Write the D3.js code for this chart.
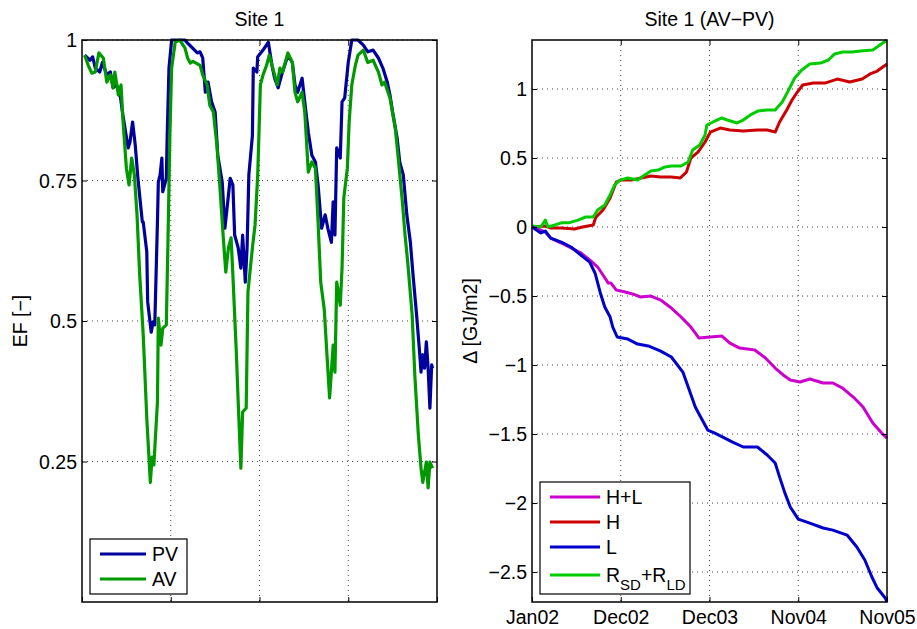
<!DOCTYPE html>
<html>
<head>
<meta charset="utf-8">
<script src="https://cdn.jsdelivr.net/npm/d3@7"></script>
<style>
body { margin: 0; background: #fff; }
text { font-family: "Liberation Sans", Arial, sans-serif; fill: #000; }
</style>
</head>
<body>
<div id="container"></div>
<script>
// time axis in years since Jan02 (tick 0..4)
var xTickLabels = ["Jan02", "Dec02", "Dec03", "Nov04", "Nov05"];
var efTicks = [0.25, 0.5, 0.75, 1];
var deltaTicks = [-2.5, -2, -1.5, -1, -0.5, 0, 0.5, 1];

// Site 1 EF, PV
var pvT = [0.03,0.09,0.12,0.15,0.20,0.23,0.28,0.32,0.35,0.39,0.43,0.46,0.52,0.54,0.57,0.60,0.63,0.68,0.69,0.73,0.74,0.78,0.80,0.82,0.85,0.86,0.88,0.90,0.91,0.95,0.96,0.98,1.01,1.08,1.16,1.18,1.30,1.33,1.36,1.39,1.42,1.46,1.50,1.53,1.58,1.61,1.63,1.67,1.70,1.72,1.76,1.79,1.81,1.84,1.86,1.88,1.92,1.93,1.97,1.98,2.04,2.10,2.14,2.17,2.21,2.25,2.32,2.37,2.40,2.43,2.48,2.51,2.55,2.59,2.63,2.66,2.70,2.74,2.77,2.81,2.83,2.85,2.87,2.91,2.93,2.96,3.00,3.04,3.11,3.17,3.22,3.28,3.34,3.39,3.44,3.47,3.50,3.55,3.58,3.62,3.66,3.70,3.73,3.77,3.80,3.82,3.84,3.86,3.88,3.90,3.92,3.94,3.95];
var pvEF = [0.973,0.964,0.970,0.950,0.943,0.960,0.938,0.943,0.915,0.920,0.902,0.867,0.808,0.818,0.854,0.813,0.754,0.676,0.676,0.623,0.534,0.480,0.498,0.493,0.676,0.747,0.760,0.790,0.730,0.754,0.830,0.950,1.000,1.000,1.000,0.996,0.977,0.979,0.968,0.907,0.925,0.890,0.872,0.795,0.747,0.665,0.694,0.754,0.742,0.653,0.630,0.594,0.653,0.569,0.630,0.760,0.830,0.950,0.943,0.970,0.982,0.996,0.955,0.932,0.915,0.938,0.973,0.960,0.920,0.907,0.932,0.890,0.836,0.795,0.783,0.742,0.665,0.689,0.665,0.640,0.712,0.653,0.808,0.790,0.890,0.897,0.960,1.000,1.000,0.991,0.979,0.982,0.968,0.950,0.925,0.902,0.872,0.826,0.783,0.760,0.689,0.640,0.582,0.511,0.452,0.409,0.440,0.416,0.463,0.416,0.345,0.422,0.416];

// Site 1 EF, AV
var avT = [0.03,0.07,0.11,0.15,0.19,0.24,0.28,0.32,0.35,0.37,0.41,0.44,0.46,0.50,0.53,0.56,0.59,0.62,0.65,0.69,0.73,0.77,0.79,0.81,0.85,0.86,0.89,0.91,0.95,0.97,0.99,1.01,1.05,1.10,1.16,1.19,1.22,1.25,1.33,1.36,1.41,1.44,1.48,1.52,1.55,1.59,1.62,1.65,1.68,1.70,1.74,1.76,1.79,1.81,1.85,1.87,1.92,1.95,1.98,2.01,2.04,2.08,2.11,2.15,2.20,2.23,2.26,2.32,2.37,2.40,2.43,2.48,2.51,2.55,2.59,2.63,2.66,2.69,2.73,2.76,2.79,2.83,2.85,2.87,2.91,2.93,2.95,2.99,3.01,3.04,3.08,3.11,3.17,3.22,3.28,3.34,3.38,3.41,3.47,3.53,3.56,3.61,3.64,3.67,3.72,3.75,3.79,3.82,3.84,3.88,3.90,3.92,3.95];
var avEF = [0.973,0.955,0.941,0.943,0.977,0.968,0.925,0.938,0.915,0.943,0.902,0.920,0.861,0.772,0.742,0.790,0.760,0.689,0.582,0.475,0.327,0.213,0.258,0.244,0.356,0.505,0.457,0.487,0.493,0.653,0.830,0.950,0.996,1.000,0.986,0.968,0.959,0.962,0.955,0.938,0.920,0.884,0.872,0.813,0.747,0.653,0.587,0.630,0.648,0.582,0.440,0.356,0.238,0.338,0.345,0.552,0.630,0.671,0.760,0.920,0.938,0.955,0.973,0.950,0.920,0.950,0.943,0.977,0.960,0.907,0.890,0.907,0.872,0.765,0.783,0.772,0.676,0.569,0.520,0.440,0.363,0.457,0.409,0.569,0.528,0.594,0.719,0.772,0.854,0.920,0.955,0.973,0.982,0.960,0.964,0.943,0.920,0.925,0.897,0.843,0.795,0.712,0.653,0.605,0.511,0.404,0.297,0.238,0.213,0.249,0.203,0.249,0.238];

// Site 1 (AV-PV), cumulative difference [GJ/m2]
var hlT = [0,0.15,0.21,0.33,0.44,0.55,0.65,0.74,0.80,0.86,0.89,0.95,1.05,1.14,1.22,1.34,1.45,1.57,1.68,1.79,1.88,2.01,2.14,2.23,2.34,2.51,2.63,2.74,2.83,2.91,3.02,3.13,3.28,3.39,3.50,3.62,3.73,3.84,3.94,4.00];
var hlVal = [0,-0.036,-0.080,-0.116,-0.152,-0.188,-0.239,-0.290,-0.348,-0.406,-0.406,-0.457,-0.471,-0.486,-0.507,-0.500,-0.529,-0.587,-0.652,-0.725,-0.804,-0.797,-0.790,-0.841,-0.877,-0.891,-0.949,-1.022,-1.072,-1.109,-1.123,-1.101,-1.130,-1.130,-1.167,-1.232,-1.304,-1.420,-1.493,-1.529];

var hT = [0,0.15,0.21,0.33,0.48,0.57,0.69,0.72,0.80,0.88,0.95,1.00,1.12,1.23,1.34,1.45,1.57,1.67,1.74,1.79,1.87,1.95,2.01,2.12,2.23,2.38,2.54,2.65,2.74,2.79,2.87,2.93,2.99,3.05,3.17,3.30,3.44,3.58,3.72,3.81,3.89,4.00];
var hVal = [0,0.007,-0.007,-0.007,-0.014,0,0.015,0.072,0.123,0.210,0.326,0.340,0.340,0.355,0.370,0.362,0.362,0.355,0.398,0.500,0.543,0.616,0.688,0.717,0.703,0.696,0.703,0.703,0.688,0.761,0.848,0.920,0.978,1.029,1.043,1.043,1.072,1.051,1.072,1.109,1.130,1.181];

var lT = [0,0.10,0.15,0.21,0.33,0.44,0.55,0.65,0.71,0.77,0.82,0.88,0.91,0.96,1.08,1.19,1.31,1.45,1.57,1.70,1.76,1.84,1.90,1.98,2.06,2.15,2.26,2.38,2.54,2.65,2.74,2.79,2.85,2.91,3.00,3.13,3.28,3.39,3.55,3.66,3.75,3.83,3.89,3.98,4.00];
var lVal = [0,-0.043,-0.029,-0.080,-0.109,-0.145,-0.203,-0.254,-0.333,-0.478,-0.580,-0.652,-0.725,-0.797,-0.812,-0.848,-0.862,-0.899,-0.942,-1.051,-1.159,-1.304,-1.377,-1.471,-1.493,-1.522,-1.558,-1.594,-1.594,-1.652,-1.710,-1.812,-1.928,-2.029,-2.116,-2.145,-2.181,-2.196,-2.232,-2.319,-2.413,-2.536,-2.616,-2.688,-2.717];

var rT = [0,0.10,0.15,0.18,0.26,0.33,0.41,0.52,0.60,0.69,0.74,0.82,0.88,0.93,0.99,1.08,1.19,1.27,1.34,1.42,1.50,1.57,1.68,1.76,1.81,1.89,1.95,1.97,2.04,2.14,2.20,2.31,2.38,2.46,2.55,2.65,2.74,2.82,2.88,2.96,3.04,3.13,3.25,3.34,3.41,3.50,3.61,3.70,3.84,3.92,4.00];
var rVal = [0.007,0,0.050,0,0.015,0.030,0.030,0.050,0.072,0.072,0.123,0.160,0.232,0.304,0.340,0.355,0.340,0.377,0.406,0.413,0.435,0.442,0.442,0.471,0.558,0.594,0.667,0.739,0.761,0.790,0.775,0.754,0.775,0.812,0.841,0.848,0.848,0.906,0.978,1.080,1.138,1.181,1.188,1.210,1.254,1.268,1.268,1.275,1.283,1.319,1.355];

var WIDTH = 917, HEIGHT = 629;
var TOP = 40, BOTTOM = 602;
var FONT = "19.5px";

var zip = function( t, v ) { return t.map(function( d, i ){ return [d, v[i]]; }); };

var svg = d3.select("#container").append("svg")
    .attr("width", WIDTH)
    .attr("height", HEIGHT);

var draw_panel = function( opt )
{
    var g = svg.append("g");
    var x = d3.scaleLinear().domain([0, 4]).range([opt.left, opt.right]);
    var y = d3.scaleLinear().domain(opt.ydomain).range([BOTTOM, TOP]);

    // grid
    g.selectAll("line.vgrid")
	.data([1, 2, 3])
	.enter().append("line")
	.attr("x1", function(d){ return x(d); }).attr("x2", function(d){ return x(d); })
	.attr("y1", TOP).attr("y2", BOTTOM)
	.attr("stroke", "#444").attr("stroke-width", 1)
	.attr("stroke-dasharray", "1,4");

    g.selectAll("line.hgrid")
	.data(opt.yticks)
	.enter().append("line")
	.attr("x1", opt.left).attr("x2", opt.right)
	.attr("y1", function(d){ return y(d); }).attr("y2", function(d){ return y(d); })
	.attr("stroke", "#444").attr("stroke-width", 1)
	.attr("stroke-dasharray", "1,4");

    // data lines
    var line = d3.line()
	.x(function(d){ return x(d[0]); })
	.y(function(d){ return y(d[1]); });

    opt.series.forEach(function( s ){
	g.append("path")
	    .datum(zip(s.t, s.v))
	    .attr("d", line)
	    .attr("fill", "none")
	    .attr("stroke", s.color)
	    .attr("stroke-width", opt.lw)
	    .attr("stroke-linejoin", "round");
    });

    // axes, ticks inside on all sides
    var tick = 5;
    var ax = d3.axisBottom(x).tickValues([0, 1, 2, 3, 4]).tickSizeInner(-tick).tickSizeOuter(0)
	.tickFormat(function(d, i){ return opt.xlabels ? opt.xlabels[i] : ""; });
    var axg = g.append("g").attr("transform", "translate(0," + BOTTOM + ")").call(ax);
    axg.selectAll("text").attr("dy", null).attr("y", 22).style("font-size", FONT)
	.style("font-family", "'Liberation Sans', Arial, sans-serif");

    g.append("g").attr("transform", "translate(0," + TOP + ")")
	.call(d3.axisTop(x).tickValues([1, 2, 3]).tickSizeInner(-tick).tickSizeOuter(0).tickFormat(""));

    var ay = d3.axisLeft(y).tickValues(opt.yticks).tickSizeInner(-tick).tickSizeOuter(0)
	.tickFormat(function(d){ return d3.format("")(d).replace("-", "\u2212"); });
    var ayg = g.append("g").attr("transform", "translate(" + opt.left + ",0)").call(ay);
    ayg.selectAll("text").attr("x", -5).attr("dy", "0.35em").style("font-size", FONT)
	.style("font-family", "'Liberation Sans', Arial, sans-serif");

    g.append("g").attr("transform", "translate(" + opt.right + ",0)")
	.call(d3.axisRight(y).tickValues(opt.yticks).tickSizeInner(-tick).tickSizeOuter(0).tickFormat(""));

    g.selectAll(".domain").remove();
    g.selectAll(".tick line").attr("stroke", "#000").attr("stroke-width", 1);

    g.append("rect")
	.attr("x", opt.left).attr("y", TOP)
	.attr("width", opt.right - opt.left).attr("height", BOTTOM - TOP)
	.attr("fill", "none").attr("stroke", "#000").attr("stroke-width", 1.5);

    // title and y label
    g.append("text")
	.attr("x", (opt.left + opt.right) / 2).attr("y", 26)
	.attr("text-anchor", "middle").style("font-size", FONT)
	.text(opt.title);

    g.append("text")
	.attr("transform", "translate(" + opt.ylabelX + "," + ((TOP + BOTTOM) / 2) + ") rotate(-90)")
	.attr("text-anchor", "middle").style("font-size", FONT)
	.text(opt.ylabel);

    // legend
    var lg = g.append("g").attr("transform", "translate(" + (opt.left + opt.legend.dx) + "," + (BOTTOM - 8 - opt.legend.h) + ")");
    lg.append("rect")
	.attr("width", opt.legend.w).attr("height", opt.legend.h)
	.attr("fill", "#fff").attr("stroke", "#000").attr("stroke-width", 1.2);

    var items = lg.selectAll("g.item")
	.data(opt.series.slice().sort(function(a, b){ return a.order - b.order; }))
	.enter().append("g")
	.attr("transform", function(d, i){ return "translate(0," + opt.legend.rows[i] + ")"; });

    items.append("line")
	.attr("x1", 10).attr("x2", opt.legend.len + 10)
	.attr("stroke", function(d){ return d.color; })
	.attr("stroke-width", 3);

    items.append("text")
	.attr("x", opt.legend.len + 16).attr("y", 7)
	.style("font-size", FONT)
	.each(function(d){
	    var t = d3.select(this);
	    d.label.forEach(function(p){
		t.append("tspan")
		    .attr("dy", p.sub ? 8 : (p.back ? -8 : null))
		    .style("font-size", p.sub ? "15px" : null)
		    .text(p.s);
	    });
	});
};

draw_panel({
    left: 82, right: 437, lw: 3.2,
    ydomain: [0, 1], yticks: efTicks,
    title: "Site 1", ylabel: "EF [\u2212]", ylabelX: 27,
    xlabels: null,
    series: [
	{ t: pvT, v: pvEF, color: "#00009c", order: 0, label: [{s: "PV"}] },
	{ t: avT, v: avEF, color: "#009900", order: 1, label: [{s: "AV"}] }
    ],
    legend: { dx: 8, w: 97, h: 55, len: 46, rows: [15, 40] }
});

draw_panel({
    left: 532, right: 887, lw: 3,
    ydomain: [-2.717, 1.355], yticks: deltaTicks,
    title: "Site 1 (AV\u2212PV)", ylabel: "\u0394 [GJ/m2]", ylabelX: 477,
    xlabels: xTickLabels,
    series: [
	{ t: hT, v: hVal, color: "#cc0000", order: 1, label: [{s: "H"}] },
	{ t: rT, v: rVal, color: "#00cc00", order: 3,
	  label: [{s: "R"}, {s: "SD", sub: true}, {s: "+R", back: true}, {s: "LD", sub: true}] },
	{ t: hlT, v: hlVal, color: "#cc00cc", order: 0, label: [{s: "H+L"}] },
	{ t: lT, v: lVal, color: "#0000cc", order: 2, label: [{s: "L"}] }
    ],
    legend: { dx: 8, w: 150, h: 112, len: 50, rows: [15, 40, 65, 93] }
});
</script>
</body>
</html>
